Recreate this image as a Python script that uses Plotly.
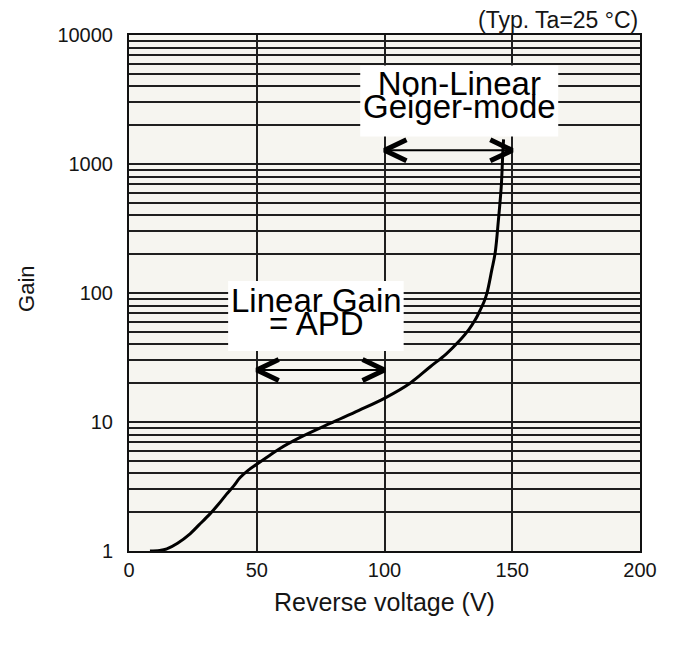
import numpy as np
import plotly.graph_objects as go

# ---- data ----
voltage = [8.2, 12, 14.8, 19, 23.9, 27.5, 31.7, 35, 38.2, 41, 43.5, 46.5, 50, 55, 59.1,
           67, 78.7, 90, 100.3, 110, 117.9, 124, 129.6, 133, 135.5, 137.5, 139, 140.1,
           142.0, 143.3, 144.6, 145.7, 146.3, 146.6]
gain = [1.0, 1.01, 1.04, 1.15, 1.36, 1.6, 1.94, 2.3, 2.76, 3.2, 3.71, 4.2, 4.7, 5.5, 6.24,
        7.6, 9.75, 12.3, 15.4, 20, 26.8, 33.5, 43.2, 52, 61.9, 74, 86, 99.6,
        151, 204, 370, 670, 1217, 1550]

x_ticks = [0, 50, 100, 150, 200]
x_tick_labels = ["0", "50", "100", "150", "200"]
y_ticks = [1, 10, 100, 1000, 10000]
y_tick_labels = ["1", "10", "100", "1000", "10000"]
y_minor = [m * 10 ** d for d in range(4) for m in range(2, 10)]

linear_arrow_v = [50, 100]
linear_arrow_gain = 25.3
geiger_arrow_v = [100, 150]
geiger_arrow_gain = 1276

label_texts = [["Linear Gain", "= APD"], ["Non-Linear", "Geiger-mode"]]
label_v = [73.2, 129.5]
label_gain = [70.7, 3442]

box_v = [(38.8, 107.5), (90.5, 168.0)]
box_gain = [(35.5, 124), (1637, 5794)]

x_title = "Reverse voltage (V)"
y_title = "Gain"
note = "(Typ. Ta=25 °C)"

# ---- figure ----
FONT = "Liberation Sans"
GRID = "#1f1f1f"
TXT = "#151515"
fig = go.Figure()

fig.add_trace(go.Scatter(x=voltage, y=gain, mode="lines",
                         line=dict(color="black", width=3, shape="spline", smoothing=1.0),
                         hoverinfo="skip", showlegend=False))

# double-headed arrows: thin shaft, thick chevron heads
def add_arrow(v_pair, g):
    fig.add_trace(go.Scatter(x=v_pair, y=[g, g], mode="lines",
                             line=dict(color="black", width=2), showlegend=False, hoverinfo="skip"))
    dx = 8.6
    f = 1.206
    for tip, sgn in ((v_pair[0], 1), (v_pair[1], -1)):
        fig.add_trace(go.Scatter(x=[tip + sgn * dx, tip, tip + sgn * dx], y=[g * f, g, g / f],
                                 mode="lines", line=dict(color="black", width=5),
                                 showlegend=False, hoverinfo="skip"))

add_arrow(linear_arrow_v, linear_arrow_gain)
add_arrow(geiger_arrow_v, geiger_arrow_gain)

for (v0, v1), (g0, g1) in zip(box_v, box_gain):
    fig.add_shape(type="rect", xref="x", yref="y", x0=v0, x1=v1, y0=g0, y1=g1,
                  fillcolor="white", line=dict(width=0), layer="above")

# two tightly spaced lines: base font sets the (tight) line pitch, span sets glyph size
for lines, v, g in zip(label_texts, label_v, label_gain):
    txt = "<br>".join('<span style="font-size:33px">%s</span>' % t for t in lines)
    fig.add_annotation(x=v, y=np.log10(g), xref="x", yref="y", text=txt, showarrow=False,
                       xanchor="center", yanchor="middle", align="center",
                       font=dict(family=FONT, size=18, color="black"))

fig.add_annotation(x=-0.1996, y=0.508, xref="paper", yref="paper", text=y_title,
                   textangle=-90, showarrow=False, xanchor="center", yanchor="middle",
                   font=dict(family=FONT, size=22, color=TXT))
fig.add_annotation(x=0.5, y=-0.099, xref="paper", yref="paper", text=x_title,
                   showarrow=False, xanchor="center", yanchor="middle",
                   font=dict(family=FONT, size=25, color=TXT))
fig.add_annotation(x=1.0, y=1.029, xref="paper", yref="paper", text=note,
                   showarrow=False, xanchor="right", yanchor="middle",
                   font=dict(family=FONT, size=23, color=TXT))

fig.update_xaxes(range=[0, 200], tickvals=x_ticks, ticktext=x_tick_labels,
                 showline=True, mirror=True, linecolor="#111", linewidth=2,
                 showgrid=True, gridcolor=GRID, gridwidth=1.5, zeroline=False,
                 ticks="", ticklabelstandoff=0,
                 tickfont=dict(family=FONT, size=20, color=TXT))
fig.update_yaxes(type="log", range=[0, 4], tickvals=y_ticks, ticktext=y_tick_labels,
                 showline=True, mirror=True, linecolor="#111", linewidth=2,
                 showgrid=True, gridcolor=GRID, gridwidth=1.5, zeroline=False,
                 ticks="", ticklabelstandoff=10,
                 minor=dict(tickvals=y_minor, showgrid=True, gridcolor=GRID, gridwidth=1.5, ticks=""),
                 tickfont=dict(family=FONT, size=20, color=TXT))

fig.update_layout(width=673, height=649, margin=dict(l=129, r=33, t=35, b=98, autoexpand=False),
                  paper_bgcolor="white", plot_bgcolor="#f6f5f0", showlegend=False)

fig.write_html("out.html")
